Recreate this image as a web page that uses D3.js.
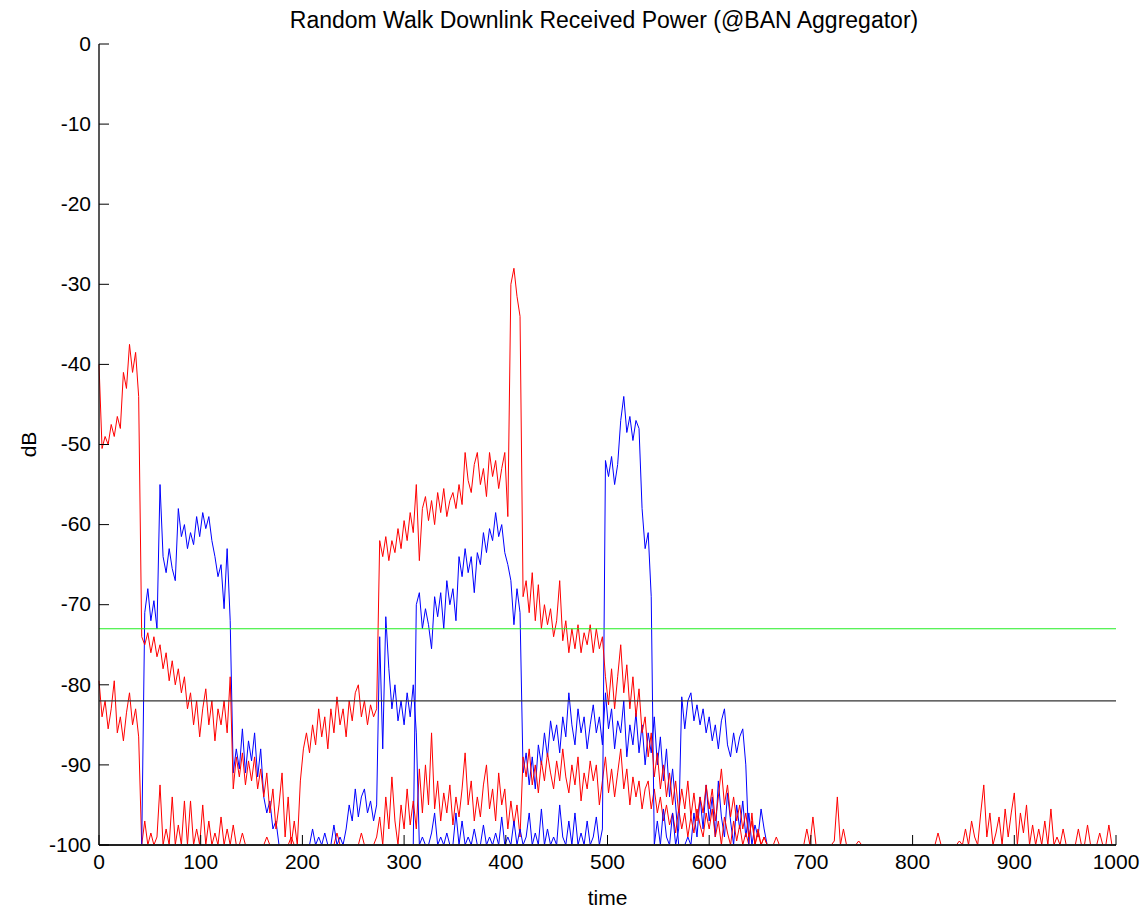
<!DOCTYPE html>
<html>
<head>
<meta charset="utf-8">
<script src="https://cdn.jsdelivr.net/npm/d3@7/dist/d3.min.js"></script>
<style>
  html, body { margin: 0; padding: 0; background: #fff; }
  svg { display: block; font-family: 'Liberation Sans', Arial, Helvetica, sans-serif; }
  .tick text { font-size: 21px; fill: #000; }
  .title { font-size: 23px; }
  .axis-label { font-size: 21px; }
</style>
</head>
<body>
<div id="chart"></div>
<script>
'use strict';

// sampling interval of the traces (time units)
const STEP = 3;

const X_TICKS = [0, 100, 200, 300, 400, 500, 600, 700, 800, 900, 1000];
const Y_TICKS = [0, -10, -20, -30, -40, -50, -60, -70, -80, -90, -100];

// horizontal reference levels (dB)
const LEVEL_GREEN = -73;
const LEVEL_BLACK = -82;

// ── Traces, one value every STEP time units (0 .. 999) ──────────────────────
const redA = [
  /*   0 */ -40, -50.5, -49, -50, -47.5, -49, -46.5, -48, -41, -43,
  /*  30 */ -37.5, -41, -38.5, -44, -74, -75, -73.5, -76, -74, -76.5,
  /*  60 */ -75, -78, -76, -79.5, -77, -80, -78, -81, -79, -83,
  /*  90 */ -81, -85, -82, -86.5, -83, -80.5, -85, -82, -87, -83,
  /* 120 */ -85, -82, -86, -79, -93, -89, -91.5, -88.5, -92.5, -89.5,
  /* 150 */ -92, -89, -93, -90.5, -94, -91, -96, -93, -98, -95,
  /* 180 */ -91, -99, -94, -100, -97, -100, -92, -88, -86, -88.5,
  /* 210 */ -85, -87.5, -83, -86.5, -84, -88, -83, -86, -81.5, -85,
  /* 240 */ -83, -86.5, -82, -84.5, -81, -80, -84, -82, -85, -82.5,
  /* 270 */ -84, -83, -62, -64, -61.5, -64.5, -62, -63.5, -60.5, -63,
  /* 300 */ -59.5, -62, -58.5, -61, -55, -64.5, -58, -56.5, -59.5, -57,
  /* 330 */ -60, -56, -58.5, -55.5, -59, -57, -56, -58, -55, -57.5,
  /* 360 */ -51, -54.5, -56, -52.5, -51, -55, -53, -56.5, -51, -54,
  /* 390 */ -52, -55.5, -53, -51, -59, -30, -28, -31.5, -34, -69,
  /* 420 */ -67, -71, -66, -72, -67.5, -73, -70, -72.5, -70.5, -74,
  /* 450 */ -72, -67, -74.5, -72, -76, -73, -75.5, -72.5, -76, -73.5,
  /* 480 */ -75, -72.5, -76, -73, -75.5, -74, -79, -82.5, -78, -83,
  /* 510 */ -79, -75, -81, -77.5, -83, -79, -84, -80.5, -86, -84,
  /* 540 */ -89, -86, -91.5, -88.5, -93, -90, -94, -91, -95, -92,
  /* 570 */ -96, -93, -95.5, -92, -96.5, -93.5, -97, -94, -96, -92.5,
  /* 600 */ -95.5, -93, -97, -94, -90.5, -95, -92.5, -96.5, -94, -97,
  /* 630 */ -95, -98, -96, -99, -97, -100, -98, -100, -99, -100,
  /* 660 */ -100, -100, -100, -100, -100, -100, -100, -100, -100, -100,
  /* 690 */ -100, -100, -100, -100, -100, -100, -100, -100, -100, -100,
  /* 720 */ -100, -100, -100, -100, -100, -100, -100, -100, -100, -100,
  /* 750 */ -100, -100, -100, -100, -100, -100, -100, -100, -100, -100,
  /* 780 */ -100, -100, -100, -100, -100, -100, -100, -100, -100, -100,
  /* 810 */ -100, -100, -100, -100, -100, -100, -100, -100, -100, -100,
  /* 840 */ -100, -100, -100, -100, -100, -100, -100, -100, -100, -100,
  /* 870 */ -100, -100, -100, -100, -100, -100, -100, -100, -100, -100,
  /* 900 */ -100, -100, -100, -100, -100, -100, -100, -100, -100, -100,
  /* 930 */ -100, -100, -100, -100, -100, -100, -100, -100, -100, -100,
  /* 960 */ -100, -100, -100, -100, -100, -100, -100, -100, -100, -100,
  /* 990 */ -100, -100, -100, -100
];

const redB = [
  /*   0 */ -79.5, -84, -82, -85.5, -83, -79.5, -86, -84, -87, -83.5,
  /*  30 */ -81, -85, -83, -86.5, -100, -97, -100, -98.5, -100, -99,
  /*  60 */ -92.5, -100, -98, -100, -94, -100, -97.5, -100, -94.5, -100,
  /*  90 */ -94.5, -100, -98, -100, -95, -100, -97, -100, -98.5, -100,
  /* 120 */ -96.5, -100, -98, -100, -97.5, -100, -100, -98.5, -100, -100,
  /* 150 */ -100, -100, -100, -100, -100, -99, -100, -100, -100, -100,
  /* 180 */ -100, -100, -100, -99, -100, -100, -100, -100, -100, -100,
  /* 210 */ -100, -100, -100, -100, -100, -100, -100, -100, -98.5, -100,
  /* 240 */ -100, -100, -100, -100, -100, -100, -98.5, -100, -100, -100,
  /* 270 */ -100, -99, -96.5, -100, -94, -98, -91.5, -97, -100, -95,
  /* 300 */ -98, -93, -97.5, -94.5, -98, -90.5, -96, -90, -95, -86,
  /* 330 */ -95.5, -92, -97, -93.5, -96, -92.5, -97.5, -94, -96.5, -93,
  /* 360 */ -88.5, -95, -92, -97, -94, -96.5, -92.5, -90, -95.5, -93,
  /* 390 */ -97, -91, -95, -93, -98, -94.5, -97.5, -95, -99, -89,
  /* 420 */ -91.5, -88, -92.5, -90, -93.5, -89.5, -92, -88.5, -91, -93,
  /* 450 */ -89.5, -92, -88, -91.5, -93.5, -90, -92.5, -89, -94.5, -91,
  /* 480 */ -93, -89.5, -92, -90, -95, -92, -89, -93.5, -90.5, -94,
  /* 510 */ -91, -88, -93, -90.5, -95, -91.5, -94, -92, -95.5, -93,
  /* 540 */ -92, -95.5, -93, -96, -94, -97, -95, -97.5, -96, -98.5,
  /* 570 */ -95.5, -98, -96, -99, -96.5, -98.5, -95.5, -97.5, -99, -96,
  /* 600 */ -98, -95.5, -99, -97, -100, -96.5, -98.5, -100, -97, -99.5,
  /* 630 */ -97.5, -100, -98.5, -100, -96, -100, -98.5, -100, -99, -100,
  /* 660 */ -100, -100, -99, -100, -100, -100, -100, -100, -100, -100,
  /* 690 */ -100, -100, -98, -100, -96.5, -100, -100, -100, -100, -100,
  /* 720 */ -100, -99.5, -94, -100, -98, -100, -100, -100, -100, -99.5,
  /* 750 */ -100, -100, -100, -100, -100, -100, -100, -100, -100, -100,
  /* 780 */ -100, -100, -100, -100, -100, -100, -100, -100, -100, -100,
  /* 810 */ -100, -100, -100, -100, -100, -98.5, -100, -100, -100, -100,
  /* 840 */ -100, -100, -99.5, -100, -98, -100, -97, -99, -100, -96,
  /* 870 */ -92.5, -99, -96, -100, -98.5, -96.5, -100, -95.5, -99, -96,
  /* 900 */ -93.5, -100, -96, -98.5, -95, -100, -97.5, -100, -98, -100,
  /* 930 */ -97, -100, -95.5, -100, -99, -100, -98, -100, -100, -100,
  /* 960 */ -100, -98, -100, -100, -97.5, -100, -100, -100, -98.5, -100,
  /* 990 */ -100, -97.5, -100, -100
];

const blueA = [
  /*   0 */ -100, -100, -100, -100, -100, -100, -100, -100, -100, -100,
  /*  30 */ -100, -100, -100, -100, -100, -71, -68, -72, -69.5, -73,
  /*  60 */ -55, -64, -66, -63, -65.5, -67, -58, -61.5, -60, -63,
  /*  90 */ -61, -62.5, -59, -61.5, -58.5, -60.5, -59, -62, -64, -66.5,
  /* 120 */ -65, -70.5, -63, -72, -91, -88, -90.5, -85.5, -91, -87,
  /* 150 */ -89.5, -86, -91.5, -88, -94, -96, -94.5, -98, -97, -100,
  /* 180 */ -100, -100, -100, -100, -100, -100, -100, -100, -100, -100,
  /* 210 */ -98, -100, -99, -100, -98.5, -100, -100, -97.5, -100, -99,
  /* 240 */ -100, -98, -95, -97, -93, -96.5, -94, -93, -96, -94.5,
  /* 270 */ -97, -95, -74, -88, -71.5, -78, -83, -80, -84.5, -82,
  /* 300 */ -85, -81, -84, -80, -86, -100, -99, -100, -100, -98.5,
  /* 330 */ -96, -100, -99, -100, -98.5, -100, -100, -96, -100, -97,
  /* 360 */ -100, -99, -100, -98, -100, -100, -97.5, -100, -99, -100,
  /* 390 */ -98.5, -100, -96.5, -100, -99, -100, -97, -100, -98, -100,
  /* 420 */ -99, -96, -100, -98.5, -100, -95.5, -100, -98, -100, -99,
  /* 450 */ -100, -95, -99, -100, -97, -100, -96, -100, -98.5, -100,
  /* 480 */ -97, -100, -99, -96.5, -100, -98, -52, -54, -51.5, -55,
  /* 510 */ -52.5, -47, -44, -48.5, -46.5, -49.5, -47, -48, -58, -63,
  /* 540 */ -61, -69, -100, -97, -100, -95.5, -99, -100, -96, -100,
  /* 570 */ -98, -81.5, -85.5, -82, -81, -84.5, -82.5, -85, -83, -86,
  /* 600 */ -84, -87, -85, -88, -84.5, -83, -87.5, -89, -86, -88.5,
  /* 630 */ -86.5, -85.5, -90, -100, -100, -100, -100, -100, -100, -100,
  /* 660 */ -100, -100, -100, -100, -100, -100, -100, -100, -100, -100,
  /* 690 */ -100, -100, -100, -100, -100, -100, -100, -100, -100, -100,
  /* 720 */ -100, -100, -100, -100, -100, -100, -100, -100, -100, -100,
  /* 750 */ -100, -100, -100, -100, -100, -100, -100, -100, -100, -100,
  /* 780 */ -100, -100, -100, -100, -100, -100, -100, -100, -100, -100,
  /* 810 */ -100, -100, -100, -100, -100, -100, -100, -100, -100, -100,
  /* 840 */ -100, -100, -100, -100, -100, -100, -100, -100, -100, -100,
  /* 870 */ -100, -100, -100, -100, -100, -100, -100, -100, -100, -100,
  /* 900 */ -100, -100, -100, -100, -100, -100, -100, -100, -100, -100,
  /* 930 */ -100, -100, -100, -100, -100, -100, -100, -100, -100, -100,
  /* 960 */ -100, -100, -100, -100, -100, -100, -100, -100, -100, -100,
  /* 990 */ -100, -100, -100, -100
];

const blueB = [
  /*   0 */ -100, -100, -100, -100, -100, -100, -100, -100, -100, -100,
  /*  30 */ -100, -100, -100, -100, -100, -100, -100, -100, -100, -100,
  /*  60 */ -100, -100, -100, -100, -100, -100, -100, -100, -100, -100,
  /*  90 */ -100, -100, -100, -100, -100, -100, -100, -100, -100, -100,
  /* 120 */ -100, -100, -100, -100, -100, -100, -100, -100, -100, -100,
  /* 150 */ -100, -100, -100, -100, -100, -100, -100, -100, -100, -100,
  /* 180 */ -100, -100, -100, -100, -100, -100, -100, -100, -100, -100,
  /* 210 */ -100, -100, -100, -100, -100, -100, -100, -100, -100, -100,
  /* 240 */ -100, -100, -100, -100, -100, -100, -100, -100, -100, -100,
  /* 270 */ -100, -100, -100, -100, -100, -100, -100, -100, -100, -100,
  /* 300 */ -100, -100, -100, -100, -70, -68.5, -73, -70.5, -72.5, -75.5,
  /* 330 */ -69, -71.5, -68.5, -73, -67, -70, -68, -72, -64, -66.5,
  /* 360 */ -63, -66, -64, -68.5, -63.5, -65, -61, -63.5, -60.5, -62,
  /* 390 */ -58.5, -61.5, -60, -63.5, -65, -67, -72.5, -68, -71, -91,
  /* 420 */ -88.5, -92.5, -89, -93, -87.5, -90, -86, -89, -84.5, -87,
  /* 450 */ -85, -88.5, -84, -86.5, -81, -85, -87.5, -83, -86, -84,
  /* 480 */ -88, -85, -82.5, -86, -84, -87.5, -81, -85.5, -83, -88,
  /* 510 */ -84.5, -86, -82, -89, -85, -87.5, -83.5, -88.5, -85, -90,
  /* 540 */ -86, -88.5, -84, -90, -86.5, -92, -88, -94, -90.5, -95,
  /* 570 */ -100, -100, -100, -99, -100, -96, -99, -94, -98, -92.5,
  /* 600 */ -97, -94, -99, -92, -96.5, -99, -93.5, -97, -100, -95,
  /* 630 */ -98, -94.5, -99, -96, -100, -97.5, -99, -95.5, -98, -100,
  /* 660 */ -100, -100, -100, -100, -100, -100, -100, -100, -100, -100,
  /* 690 */ -100, -100, -100, -100, -100, -100, -100, -100, -100, -100,
  /* 720 */ -100, -100, -100, -100, -100, -100, -100, -100, -100, -100,
  /* 750 */ -100, -100, -100, -100, -100, -100, -100, -100, -100, -100,
  /* 780 */ -100, -100, -100, -100, -100, -100, -100, -100, -100, -100,
  /* 810 */ -100, -100, -100, -100, -100, -100, -100, -100, -100, -100,
  /* 840 */ -100, -100, -100, -100, -100, -100, -100, -100, -100, -100,
  /* 870 */ -100, -100, -100, -100, -100, -100, -100, -100, -100, -100,
  /* 900 */ -100, -100, -100, -100, -100, -100, -100, -100, -100, -100,
  /* 930 */ -100, -100, -100, -100, -100, -100, -100, -100, -100, -100,
  /* 960 */ -100, -100, -100, -100, -100, -100, -100, -100, -100, -100,
  /* 990 */ -100, -100, -100, -100
];

// ── Layout ─────────────────────────────────────────────────────────────────
const W = 1146;
const H = 909;
const PAD = { top: 44, right: 30, bottom: 64, left: 99 };
const TICK = 10;

const svg = d3.select('#chart')
  .append('svg')
  .attr('width', W)
  .attr('height', H);

const x = d3.scaleLinear().domain([0, 1000]).range([PAD.left, W - PAD.right]);
const y = d3.scaleLinear().domain([-100, 0]).range([H - PAD.bottom, PAD.top]);

// ── Traces ─────────────────────────────────────────────────────────────────
const line = d3.line()
  .x((d, i) => x(i * STEP))
  .y(d => y(d));

const traces = [
  { values: blueB, color: '#0000ff' },
  { values: redB,  color: '#ff0000' },
  { values: blueA, color: '#0000ff' },
  { values: redA,  color: '#ff0000' },
];

const traceG = svg.append('g').attr('class', 'traces');
traces.forEach(t => {
  traceG.append('path')
    .datum(t.values)
    .attr('fill', 'none')
    .attr('stroke', t.color)
    .attr('stroke-width', 1)
    .attr('d', line);
});

// Reference levels
[[LEVEL_GREEN, '#22ee22'], [LEVEL_BLACK, '#333333']].forEach(([lv, col]) => {
  svg.append('line')
    .attr('x1', x(0)).attr('x2', x(1000))
    .attr('y1', y(lv)).attr('y2', y(lv))
    .attr('stroke', col)
    .attr('stroke-width', 1.2);
});

// ── Axes ───────────────────────────────────────────────────────────────────
const fmt = d => String(d);

const xAxis = svg.append('g')
  .attr('transform', `translate(0,${y(-100)})`)
  .call(d3.axisBottom(x).tickValues(X_TICKS).tickFormat(fmt)
    .tickSizeInner(-TICK).tickSizeOuter(0).tickPadding(9).offset(0));

const yAxis = svg.append('g')
  .attr('transform', `translate(${x(0)},0)`)
  .call(d3.axisLeft(y).tickValues(Y_TICKS).tickFormat(fmt)
    .tickSizeInner(-TICK).tickSizeOuter(0).tickPadding(8).offset(0));

[xAxis, yAxis].forEach(g => {
  g.selectAll('.tick line').attr('stroke', '#000');
  g.selectAll('.tick text').attr('font-family', null).attr('font-size', null);
});
// bottom spine is thick enough to hide traces resting on the -100 floor
xAxis.select('.domain').attr('stroke', '#222').attr('stroke-width', 2);
yAxis.select('.domain').attr('stroke', '#111').attr('stroke-width', 1.4);

// ── Labels ─────────────────────────────────────────────────────────────────
svg.append('text')
  .attr('class', 'title')
  .attr('x', 604)
  .attr('y', 28)
  .attr('text-anchor', 'middle')
  .text('Random Walk Downlink Received Power (@BAN Aggregator)');

svg.append('text')
  .attr('class', 'axis-label')
  .attr('x', x(500))
  .attr('y', 905)
  .attr('text-anchor', 'middle')
  .text('time');

svg.append('text')
  .attr('class', 'axis-label')
  .attr('transform', `translate(36,${y(-50)}) rotate(-90)`)
  .attr('text-anchor', 'middle')
  .text('dB');
</script>
</body>
</html>
